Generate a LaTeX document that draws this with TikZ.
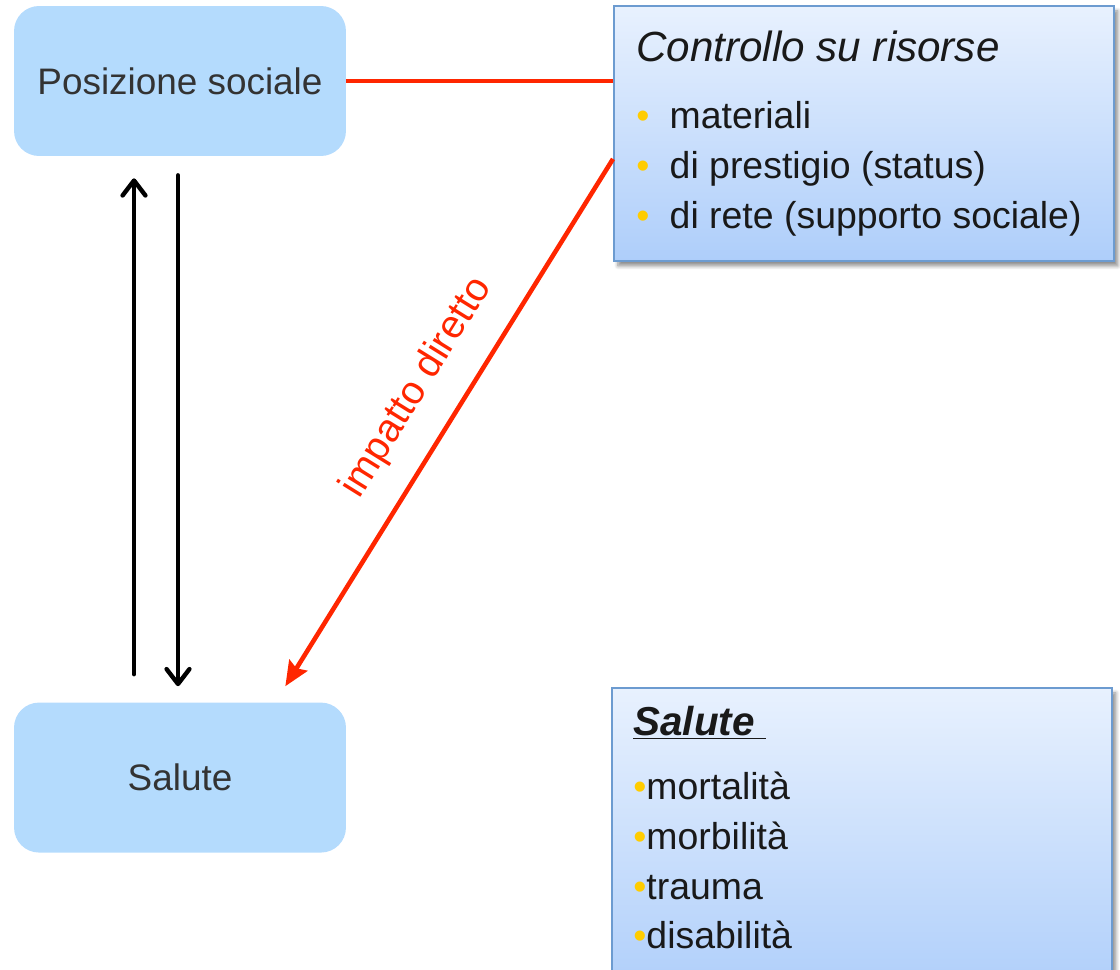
\documentclass[tikz,border=0pt]{standalone}
\usepackage{fontspec}
\setmainfont{Liberation Sans}
\usetikzlibrary{arrows.meta,positioning,shadows.blur}

\definecolor{boxblue}{RGB}{180,219,253}
\definecolor{darktext}{RGB}{51,51,51}
\definecolor{linkred}{RGB}{255,38,0}
\definecolor{bulletyellow}{RGB}{255,204,0}
\definecolor{paneltop}{RGB}{232,241,254}
\definecolor{panelbottom}{RGB}{174,206,250}
\definecolor{panelborder}{RGB}{108,155,208}
\newcommand{\ybul}{\textcolor{bulletyellow}{•}}

\begin{document}
\begin{tikzpicture}[x=0.02cm,y=-0.02cm,
			every node/.style={inner sep=0pt},
			roundbox/.style={rectangle,rounded corners=0.5cm,fill=boxblue,
				minimum width=6.64cm,minimum height=3cm,text=darktext,
				font=\fontsize{21}{25}\selectfont},
			panel/.style={rectangle,draw=panelborder,line width=1.1pt,
				top color=paneltop,bottom color=panelbottom,minimum width=10cm,
				blur shadow={shadow xshift=0.08cm,shadow yshift=-0.1cm,
					shadow blur steps=6,shadow opacity=45}},
			paneltext/.style={align=left,text=black!90,
				font=\fontsize{21.3}{28.35}\selectfont},
			blackarrow/.style={line width=2.5pt,line cap=round,
				-{Straight Barb[length=8.5pt,width=13pt,round]}},
			redlink/.style={draw=linkred,line width=2.6pt},
			redarrow/.style={redlink,-{Stealth[length=14pt,width=12pt,inset=2pt]}},]
	\clip (0,0) rectangle (1120,970);
	% boxes on the left
	\node[roundbox] (posizione) at (180,81) {Posizione sociale};
	\node[roundbox,below=10.92cm of posizione] (salute) {Salute};
	% panels on the right
	\node[panel,minimum height=5.1cm,anchor=north west] (controllo) at (613,5) {};
	\node[paneltext,anchor=north west] (risorse) at ([xshift=0.46cm,yshift=-0.52cm]controllo.north west)
		{{\fontsize{24}{28}\selectfont\itshape Controllo su risorse}\\[9.5pt]
		\makebox[19pt][l]{\ybul}materiali\\
		\makebox[19pt][l]{\ybul}di prestigio (status)\\
		\makebox[19pt][l]{\ybul}di rete (supporto sociale)};
	\node[panel,minimum height=6.2cm,anchor=north west] (salutepanel) at (611,687) {};
	\node[paneltext,anchor=north west] (esiti) at ([xshift=0.44cm,yshift=-0.38cm]salutepanel.north west)
		{{\fontsize{23}{28}\selectfont\underline{\textbf{\textit{Salute}}\ }}\\[8pt]
		\ybul mortalità\\
		\ybul morbilità\\
		\ybul trauma\\
		\ybul disabilità};
	% connectors
	\draw[redlink] (posizione.east) -- (posizione.east -| controllo.west);
	\draw[redarrow] ([yshift=-0.51cm]controllo.west) --
		node[pos=0.48,sloped,above=0.5cm,text=linkred,font=\fontsize{22.5}{26}\selectfont] (impatto) {impatto diretto}
		([xshift=-1.22cm,yshift=0.32cm]salute.north east);
	\draw[blackarrow] ([xshift=-0.92cm,yshift=0.56cm]salute.north) -- ([xshift=-0.92cm,yshift=-0.44cm]posizione.south);
	\draw[blackarrow] ([xshift=-0.04cm,yshift=-0.38cm]posizione.south) -- ([xshift=-0.04cm,yshift=0.32cm]salute.north);
\end{tikzpicture}
\end{document}
